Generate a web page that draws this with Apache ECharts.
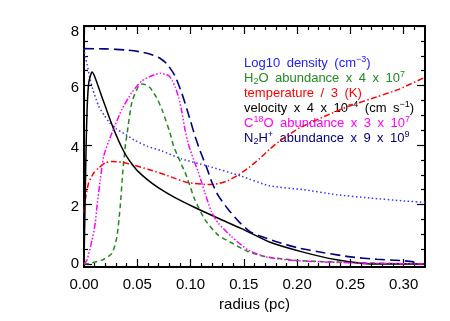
<!DOCTYPE html>
<html>
<head>
<meta charset="utf-8">
<script src="https://cdn.jsdelivr.net/npm/echarts@6/dist/echarts.min.js"></script>
<style>html,body{margin:0;padding:0;background:#fff;}#c{width:450px;height:321px;}</style>
</head>
<body>
<div id="c"></div>
<script>
// ---- data (x = radius in pc, y = plotted value) ----
const logDensity = [[0,7.25],[0.001,7.0],[0.003,6.7],[0.0055,6.25],[0.008,5.9],[0.0138,5.3],[0.019,5.0],[0.024,4.75],[0.03,4.55],[0.038,4.38],[0.048,4.15],[0.06,3.95],[0.0731,3.8],[0.0919,3.53],[0.1165,3.29],[0.1478,2.95],[0.174,2.63],[0.2056,2.5],[0.237,2.33],[0.268,2.22],[0.3,2.12],[0.32,2.07]];
const h2oAbund = [[0,0],[0.0044,0.02],[0.0169,0.13],[0.0263,0.36],[0.0309,0.92],[0.034,1.94],[0.0363,3.06],[0.0387,3.96],[0.0403,4.35],[0.045,5.45],[0.0513,5.99],[0.0544,6.05],[0.058,6.02],[0.0619,5.93],[0.068,5.6],[0.0731,5.2],[0.0806,4.42],[0.0841,3.96],[0.0884,3.6],[0.092,3.3],[0.0963,2.95],[0.104,2.16],[0.1135,1.49],[0.1256,0.98],[0.1387,0.71],[0.1537,0.42],[0.1697,0.25],[0.2,0.12],[0.25,0.05],[0.3,0.01],[0.32,0]];
const tempOver3 = [[0,1.72],[0.0012,2.16],[0.0044,2.73],[0.0091,3.06],[0.0138,3.23],[0.02,3.4],[0.0263,3.45],[0.0356,3.42],[0.045,3.34],[0.0606,3.18],[0.0762,3.0],[0.0853,2.88],[0.096,2.75],[0.104,2.71],[0.1165,2.67],[0.1259,2.7],[0.135,2.8],[0.145,3.0],[0.155,3.25],[0.165,3.55],[0.174,3.85],[0.1856,4.19],[0.2025,4.58],[0.225,4.95],[0.249,5.31],[0.275,5.62],[0.296,5.88],[0.32,6.28]];
const velocity = [[0,0],[0.001,2.0],[0.002,4.0],[0.003,5.3],[0.0045,6.1],[0.0075,6.45],[0.01,6.3],[0.015,5.8],[0.02,5.3],[0.025,4.8],[0.03,4.35],[0.035,3.95],[0.04,3.62],[0.045,3.36],[0.05,3.14],[0.06,2.82],[0.07,2.56],[0.085,2.24],[0.104,1.9],[0.1259,1.54],[0.1478,1.19],[0.174,0.74],[0.2056,0.4],[0.237,0.14],[0.262,0.02],[0.28,0],[0.32,0]];
const c18oAbund = [[0,0],[0.0028,0.13],[0.0075,0.8],[0.0106,1.38],[0.0122,1.94],[0.0153,2.84],[0.0185,3.63],[0.0232,4.13],[0.0263,4.41],[0.0356,5.2],[0.045,5.77],[0.0544,6.16],[0.0638,6.33],[0.0715,6.41],[0.0794,6.33],[0.083,6.15],[0.0856,5.95],[0.0888,5.6],[0.0919,5.1],[0.0947,4.53],[0.0978,4.05],[0.101,3.7],[0.104,3.4],[0.1072,3.1],[0.1134,2.4],[0.1197,1.75],[0.1259,1.38],[0.1385,0.92],[0.154,0.47],[0.1697,0.25],[0.179,0.19],[0.2,0.11],[0.25,0.04],[0.3,0.01],[0.32,0]];
const n2hAbund = [[0,7.24],[0.02,7.23],[0.04,7.19],[0.055,7.12],[0.065,7.02],[0.072,6.9],[0.078,6.72],[0.0853,6.33],[0.092,5.72],[0.0966,5.2],[0.1,4.8],[0.104,4.32],[0.109,3.8],[0.115,3.25],[0.12,2.75],[0.126,2.3],[0.135,1.85],[0.146,1.4],[0.157,1.06],[0.17,0.88],[0.18,0.76],[0.2,0.55],[0.225,0.38],[0.25,0.24],[0.275,0.16],[0.3,0.11],[0.308,0.08],[0.313,0.0]];

const xMajor = [0, 0.05, 0.10, 0.15, 0.20, 0.25, 0.30];
const xMinor = [0.01,0.02,0.03,0.04,0.06,0.07,0.08,0.09,0.11,0.12,0.13,0.14,0.16,0.17,0.18,0.19,0.21,0.22,0.23,0.24,0.26,0.27,0.28,0.29,0.31];
const yMajor = [0, 2, 4, 6, 8];
const yMinor = [0.5,1,1.5,2.5,3,3.5,4.5,5,5.5,6.5,7,7.5];

const legendLines = [
  {text: 'Log10 density (cm{sup|\u22123})', color: '#2020ff'},
  {text: 'H{sub|2}O abundance x 4 x 10{sup|7}', color: '#1f8a1f'},
  {text: 'temperature / 3 (K)', color: '#ff0000'},
  {text: 'velocity x 4 x 10{sup|\u22124} (cm s{sup|\u22121})', color: '#000000'},
  {text: 'C{sup|18}O abundance x 3 x 10{sup|7}', color: '#ff00ff'},
  {text: 'N{sub|2}H{sup|+} abundance x 9 x 10{sup|9}', color: '#000080'}
];

const chart = echarts.init(document.getElementById('c'), null, {renderer: 'canvas'});
const FONT = 'Liberation Sans, Arial, sans-serif';
const XMIN = 0, XMAX = 0.32, YMIN = -0.1, YMAX = 8;

function xAx(pos, ticks, len, labels, showLine) {
  return {
    type: 'value', position: pos, min: XMIN, max: XMAX,
    axisLine: {show: showLine, onZero: false, lineStyle: {color: '#000', width: 2}},
    axisTick: {show: true, inside: true, length: len, customValues: ticks, lineStyle: {color: '#000', width: 1.2}},
    axisLabel: labels ? {show: true, customValues: xMajor, formatter: v => v.toFixed(2), color: '#000', fontSize: 15, fontFamily: FONT, margin: 10} : {show: false},
    splitLine: {show: false}
  };
}
function yAx(pos, ticks, len, labels, showLine) {
  return {
    type: 'value', position: pos, min: YMIN, max: YMAX,
    axisLine: {show: showLine, onZero: false, lineStyle: {color: '#000', width: 2}},
    axisTick: {show: true, inside: true, length: len, customValues: ticks, lineStyle: {color: '#000', width: 1.2}},
    axisLabel: labels ? {
      show: true, customValues: yMajor, color: '#000', fontSize: 15, fontFamily: FONT, margin: 5,
      formatter: v => v === 8 ? '{t|8}' : (v === 0 ? '{z|0}' : '{n|' + v + '}'),
      rich: {t: {fontSize: 15, fontFamily: FONT, padding: [12, 0, 0, 0]}, n: {fontSize: 15, fontFamily: FONT, padding: [5, 0, 0, 0]}, z: {fontSize: 15, fontFamily: FONT}}
    } : {show: false},
    splitLine: {show: false}
  };
}

function ser(data, color, type, width) {
  return {
    type: 'line', data: data, xAxisIndex: 0, yAxisIndex: 0, symbol: 'none',
    smooth: 0.2, clip: true, animation: false,
    lineStyle: {color: color, width: width || 1.5, type: type}
  };
}

const SP = '\u2002';
const graphics = legendLines.map((l, i) => ({
  type: 'text', left: 244, top: 55 + i * 15,
  style: {
    text: l.text.split(' ').join(SP), fill: l.color, fontSize: 13, fontFamily: FONT,
    lineHeight: 16,
    rich: {
      sup: {fontSize: 9, fontFamily: FONT, fill: l.color, lineHeight: 9, verticalAlign: 'top'},
      sub: {fontSize: 9, fontFamily: FONT, fill: l.color, lineHeight: 9, verticalAlign: 'bottom'}
    }
  }
}));

chart.setOption({
  animation: false,
  backgroundColor: '#fff',
  grid: {left: 84, right: 25, top: 26, bottom: 54, containLabel: false},
  xAxis: [
    Object.assign(xAx('bottom', xMajor, 8, true, true), {name: 'radius (pc)', nameLocation: 'middle', nameGap: 27, nameTextStyle: {fontSize: 15, fontFamily: FONT, color: '#000'}}),
    xAx('bottom', xMinor, 4, false, false),
    xAx('top', xMajor, 8, false, true),
    xAx('top', xMinor, 4, false, false)
  ],
  yAxis: [
    yAx('left', yMajor, 8, true, true),
    yAx('left', yMinor, 4, false, false),
    yAx('right', yMajor, 8, false, true),
    yAx('right', yMinor, 4, false, false)
  ],
  series: [
    ser(logDensity, '#3535ff', [1.5, 2.5], 1.5),
    ser(h2oAbund, '#1f8a1f', [5, 3.5], 1.5),
    ser(tempOver3, '#ff0000', [6, 2.5, 1.5, 2.5], 1.5),
    ser(velocity, '#000000', 'solid', 1.5),
    ser(c18oAbund, '#ff00ff', [6, 2, 1.5, 2, 1.5, 2, 1.5, 2], 1.5),
    ser(n2hAbund, '#000080', [10, 5], 1.6)
  ],
  graphic: graphics
});
</script>
</body>
</html>
